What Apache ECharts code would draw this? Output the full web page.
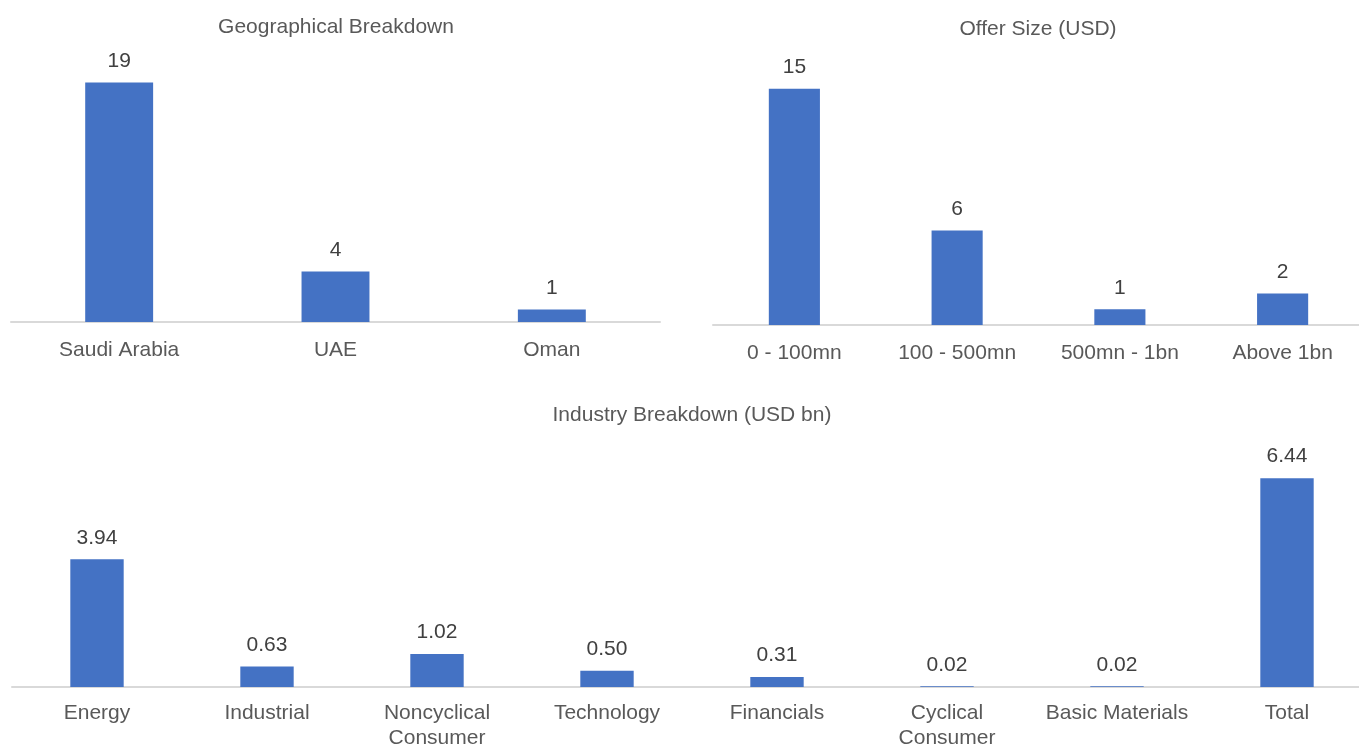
<!DOCTYPE html>
<html>
<head>
<meta charset="utf-8">
<title>IPO Breakdown</title>
<script src="https://cdn.jsdelivr.net/npm/echarts@6/dist/echarts.min.js"></script>
<style>
  html, body { margin: 0; padding: 0; background: #ffffff; }
  #chart { width: 1359px; height: 745px; }
</style>
</head>
<body>
<div id="chart"></div>
<script>
// Geographical breakdown (number of listings)
const geoCategories = ['Saudi Arabia', 'UAE', 'Oman'];
const geoValues = [19, 4, 1];

// Offer size buckets (number of listings)
const sizeCategories = ['0 - 100mn', '100 - 500mn', '500mn - 1bn', 'Above 1bn'];
const sizeValues = [15, 6, 1, 2];

// Industry breakdown (USD bn)
const industryCategories = ['Energy', 'Industrial', 'Noncyclical\nConsumer', 'Technology',
  'Financials', 'Cyclical\nConsumer', 'Basic Materials', 'Total'];
const industryValues = [3.94, 0.63, 1.02, 0.50, 0.31, 0.02, 0.02, 6.44];

const titles = ['Geographical Breakdown', 'Offer Size (USD)', 'Industry Breakdown (USD bn)'];

const FONT = "'Liberation Sans', Arial, sans-serif";
const FONT_SIZE = 21;
const BAR = '#4472C4';
const GREY_TEXT = '#595959';
const DARK_TEXT = '#404040';
const AXIS = '#d9d9d9';

// fixed plot rectangles; the last one runs slightly past the right edge
const grids = [
  { left: 11, top: 70, width: 649, height: 252 },
  { left: 713, top: 73, width: 651, height: 252 },
  { left: 12, top: 460, width: 1360, height: 227 }
].map(g => Object.assign({ outerBoundsMode: 'none', containLabel: false }, g));

function titleAt(text, cx, top) {
  return {
    text: text, left: cx, top: top, padding: 0, textAlign: 'center',
    textStyle: { fontFamily: FONT, fontSize: FONT_SIZE, fontWeight: 'normal', color: GREY_TEXT }
  };
}

function xAxisFor(i, cats) {
  return {
    type: 'category', gridIndex: i, data: cats,
    axisLine: { lineStyle: { color: AXIS, width: 2 } },
    axisTick: { show: false },
    axisLabel: {
      interval: 0, fontFamily: FONT, fontSize: FONT_SIZE, color: GREY_TEXT,
      lineHeight: 25, margin: i === 2 ? 14 : 16
    }
  };
}

function yAxisFor(i, max) {
  return { type: 'value', gridIndex: i, min: 0, max: max, show: false, splitLine: { show: false } };
}

function barSeries(i, values, decimals) {
  return {
    type: 'bar', xAxisIndex: i, yAxisIndex: i, data: values,
    barWidth: '31.4%',
    itemStyle: { color: BAR },
    label: {
      show: true, position: 'top', distance: 11,
      fontFamily: FONT, fontSize: FONT_SIZE, color: DARK_TEXT, lineHeight: 21,
      formatter: p => Number(p.value).toFixed(decimals)
    },
    silent: true
  };
}

const chart = echarts.init(document.getElementById('chart'), null, { renderer: 'canvas' });
chart.setOption({
  animation: false,
  backgroundColor: '#ffffff',
  title: [
    titleAt(titles[0], 336, 17),
    titleAt(titles[1], 1038, 19),
    titleAt(titles[2], 692, 405)
  ],
  grid: grids,
  xAxis: [
    xAxisFor(0, geoCategories),
    xAxisFor(1, sizeCategories),
    xAxisFor(2, industryCategories)
  ],
  yAxis: [yAxisFor(0, 20), yAxisFor(1, 16), yAxisFor(2, 7)],
  series: [
    barSeries(0, geoValues, 0),
    barSeries(1, sizeValues, 0),
    barSeries(2, industryValues, 2)
  ]
});
</script>
</body>
</html>
